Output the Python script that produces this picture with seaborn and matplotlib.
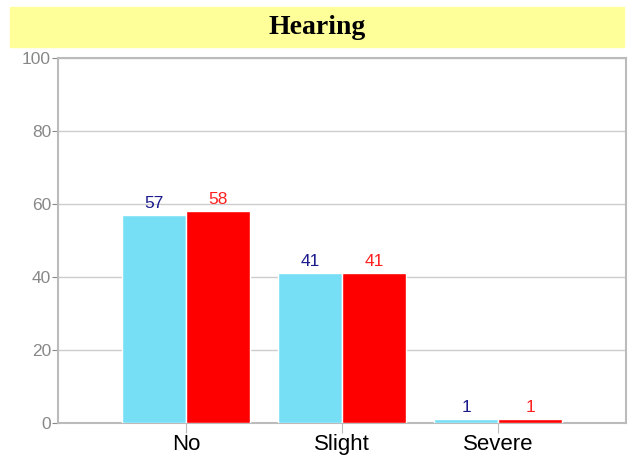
import seaborn as sns
import pandas as pd
import numpy as np
import matplotlib.pyplot as plt
from matplotlib.patches import Rectangle

# data
categories = ['No', 'Slight', 'Severe']
group_names = ['A', 'B']
values_a = [57, 41, 1]
values_b = [58, 41, 1]
yticks = [0, 20, 40, 60, 80, 100]

data = pd.DataFrame({
    'cat': categories * 2,
    'grp': [group_names[0]] * 3 + [group_names[1]] * 3,
    'val': values_a + values_b,
})

sns.set_style('white')
plt.rcParams['font.family'] = ['Liberation Sans', 'DejaVu Sans']

fig = plt.figure(figsize=(6.34, 4.59), dpi=100)
ax = fig.add_axes([58 / 634, 36 / 459, 568 / 634, 365 / 459])

# yellow title band
fig.patches.append(Rectangle((10 / 634, (459 - 47) / 459), 614 / 634, 40 / 459,
                             transform=fig.transFigure, color='#ffff99', zorder=0))
fig.text(0.5, (459 - 27) / 459, 'Hearing', ha='center', va='center', color='black',
         fontsize=20, fontweight='bold', family=['Liberation Serif', 'DejaVu Serif'])

sns.barplot(data=data, x='cat', y='val', hue='grp', order=categories, hue_order=group_names,
            palette=['#77dff5', '#ff0000'], saturation=1, width=0.82, edgecolor='white',
            linewidth=1, legend=False, ax=ax, zorder=3)

label_colors = ['#1a1a8c', '#ff2020']
for cont, c in zip(ax.containers, label_colors):
    ax.bar_label(cont, padding=3, color=c, fontsize=12.5)

ax.set_xlim(-0.82, 2.82)
ax.set_ylim(0, 100)
ax.set_yticks(yticks)
ax.grid(axis='y', color='#cccccc', lw=1, zorder=0)
ax.set_axisbelow(True)
for s in ax.spines.values():
    s.set_color('#bbbbbb')
    s.set_linewidth(1.5)
ax.tick_params(axis='y', left=True, length=4, color='#888888', labelcolor='#888888', labelsize=12.5, pad=1)
ax.tick_params(axis='x', bottom=True, length=7, color='#bbbbbb', labelcolor='black', labelsize=16, pad=1)
ax.set_xlabel(None)
ax.set_ylabel(None)

plt.savefig('out.png', dpi=100)
